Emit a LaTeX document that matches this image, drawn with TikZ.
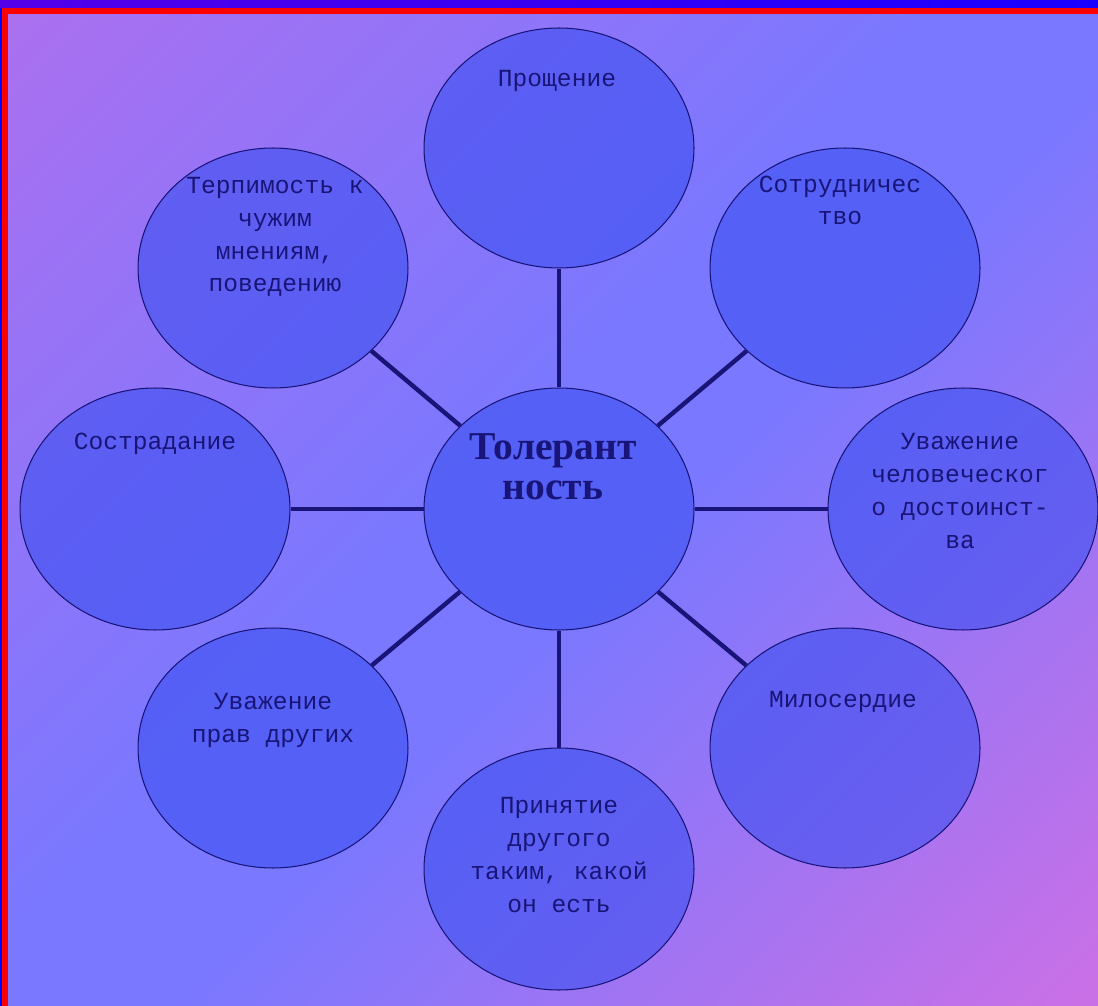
\documentclass[tikz,border=0pt]{standalone}
\usepackage{fontspec}
\setmainfont{Liberation Serif}
\setmonofont{Liberation Mono}
\usetikzlibrary{shapes.geometric}
\definecolor{navy}{RGB}{24,20,120}
\definecolor{bubblefill}{RGB}{60,80,240}
\definecolor{bgpurple}{RGB}{170,112,240}
\definecolor{bgblue}{RGB}{122,120,255}
\definecolor{bgpink}{RGB}{202,112,230}
\pgfdeclareverticalshading{bgshade}{100bp}{color(0bp)=(bgpink); color(15bp)=(bgpink);
    color(46bp)=(bgblue); color(54bp)=(bgblue); color(85bp)=(bgpurple); color(100bp)=(bgpurple)}

\begin{document}
\begin{tikzpicture}[x=0.02cm, y=-0.02cm,
    bubble/.style={ellipse, draw=navy, line width=0.6pt, fill=bubblefill,
        fill opacity=0.6, minimum width=5.4cm, minimum height=4.8cm, inner sep=0pt},
    btext/.style={text=navy, align=center, inner sep=0pt, anchor=base,
        font=\ttfamily\fontsize{14}{18.7}\selectfont},
    spoke/.style={draw=navy, line width=2.5pt}]

    % Background and frame
    \useasboundingbox (0,0) rectangle (1098,1006);
    \shade[shading=bgshade, shading angle=45] (8,14) rectangle (1098,1006);
    \shade[left color={rgb,255:red,84;green,0;blue,232},
        right color={rgb,255:red,24;green,0;blue,255}] (0,0) rectangle (1098,8);
    \fill[red] (2,8) rectangle (1098,14);
    \fill[red] (2,8) rectangle (8,1006);
    \fill[blue] (0,8) rectangle (2,1006);

    % Draw the centre and the outer bubbles
    \node[bubble, minimum height=4.84cm] (tol) at (559,509) {};
    \node[bubble] (prosh) at (559,148) {};
    \node[bubble] (terp) at (273,268) {};
    \node[bubble] (sotr) at (845,268) {};
    \node[bubble, minimum height=4.84cm] (sostr) at (155,509) {};
    \node[bubble, minimum height=4.84cm] (uvchel) at (963,509) {};
    \node[bubble] (uvprav) at (273,748) {};
    \node[bubble] (milos) at (845,748) {};
    \node[bubble, minimum height=4.84cm] (prin) at (559,869) {};

    % Spokes from the centre
    \draw[spoke] (tol) -- (prosh);
    \draw[spoke] (tol) -- (sotr);
    \draw[spoke] (tol) -- (uvchel);
    \draw[spoke] (tol) -- (milos);
    \draw[spoke] (tol) -- (prin);
    \draw[spoke] (tol) -- (uvprav);
    \draw[spoke] (tol) -- (sostr);
    \draw[spoke] (tol) -- (terp);

    % Texts in the bubbles (base = last line)
    \node[btext, font=\bfseries\fontsize{22.5}{23}\selectfont] (tol-t) at (553,500) {Толерант\\ность};
    \node[btext] (prosh-t) at (557,87) {Прощение};
    \node[btext] (terp-t) at (275,292) {Терпимость к\\чужим\\мнениям,\\поведению};
    \node[btext] (sotr-t) at (840,225) {Сотрудничес\\тво};
    \node[btext] (sostr-t) at (155,450) {Сострадание};
    \node[btext] (uvchel-t) at (960,548) {Уважение\\человеческог\\о достоинст-\\ва};
    \node[btext] (uvprav-t) at (273,742) {Уважение\\прав других};
    \node[btext] (milos-t) at (843,707) {Милосердие};
    \node[btext] (prin-t) at (559,912) {Принятие\\другого\\таким, какой\\он есть};
\end{tikzpicture}
\end{document}
